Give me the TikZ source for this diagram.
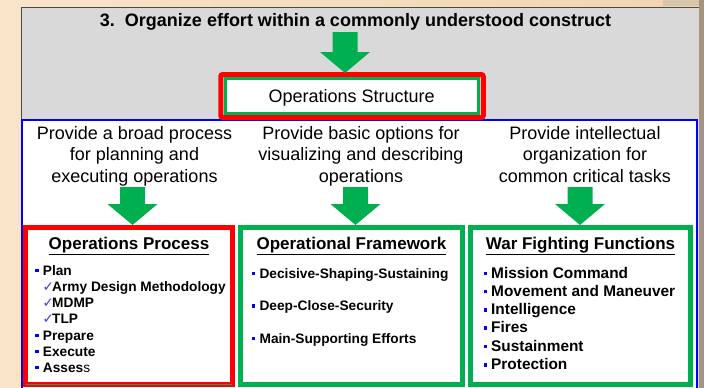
\documentclass[tikz,border=0pt]{standalone}
\usepackage{fontspec}
\setmainfont{Liberation Sans}
\newfontfamily\checkfont{DejaVu Sans}

\definecolor{beigeL}{HTML}{F8E4C9}
\definecolor{beigeR}{HTML}{F2D5AD}
\definecolor{beigeD}{HTML}{D9C6AA}
\definecolor{edgebrown}{HTML}{A59580}
\definecolor{edgegray}{HTML}{4A4A4A}
\definecolor{panelgray}{HTML}{D9D9D9}
\definecolor{framegreen}{HTML}{00B050}
\definecolor{framered}{HTML}{FF0000}
\definecolor{frameblue}{HTML}{0000FF}
\definecolor{bulletblue}{HTML}{0000FF}
\definecolor{checkblue}{HTML}{3A3AE0}

% small square bullet and check mark in front of the list entries
\newcommand\sqbul{\textcolor{bulletblue}{\rule[3pt]{3.5pt}{3.5pt}}\hspace{4.2pt}}
\newcommand\chk{\makebox[9pt][l]{\hspace{-0.5pt}\checkfont\mdseries\fontsize{13.5}{13.5}\selectfont\textcolor{checkblue}{✓}}}
% fat green arrow: #1 tip, #2 total length, #3 head length
\newcommand\greenarrow[3]{%
  \fill[framegreen] (#1) -- ++(25,-#3) -- ++(-12.5,0) -- ++(0,{#3-#2})
    -- ++(-25,0) -- ++(0,{#2-#3}) -- ++(-12.5,0) -- cycle;}

\begin{document}
\begin{tikzpicture}[x=1pt,y=-1pt,
    prompt/.style={font=\fontsize{18}{21.5}\selectfont, align=center, anchor=north, inner sep=0pt},
    colhead/.style={font=\fontsize{17}{20}\selectfont\bfseries, anchor=base, inner sep=0pt},
    item/.style={font=\fontsize{13.7}{16}\selectfont\bfseries, anchor=base west, inner sep=0pt},
    bigitem/.style={item, font=\fontsize{15.4}{18}\selectfont\bfseries},
    panel/.style={line width=5pt, inner sep=0pt}]

  % Canvas (pixel units, y pointing down)
  \useasboundingbox (0,0) rectangle (704,388);
  \begin{scope}
    \clip (0,0) rectangle (704,388);
    \fill[left color=beigeL, right color=beigeR] (0,0) rectangle (704,388);
    \fill[edgebrown] (699,0) rectangle (704,388);
    \fill[beigeD] (663,0) rectangle (699,6);

    % Gray slide panel
    \fill[panelgray] (21,7) rectangle (699,400);
    \draw[edgegray, line width=1pt] (21.5,400) -- (21.5,7.5) -- (699,7.5);

    % White area with blue frame
    \filldraw[fill=white, draw=frameblue, line width=1.8pt] (22,120) rectangle (697,400);
  \end{scope}

  % Title
  \node[font=\fontsize{18}{21}\selectfont\bfseries, anchor=base, inner sep=0pt] (title)
    at (355.5,27) {3.\ \ Organize effort within a commonly understood construct};

  % Operations Structure
  \node[panel, draw=framered, rounded corners=2pt, minimum width=262.5pt, minimum height=43pt] (opsframe) at (352,96) {};
  \node[draw=framegreen, line width=3pt, fill=white, minimum width=253.3pt, minimum height=35.3pt,
    inner sep=0pt, text depth=0pt, font=\fontsize{18}{21}\selectfont] (opsstruct) at (351.7,95.7) {Operations Structure};

  % Purposes
  \node[prompt] (procprompt) at (134.5,126) {Provide a broad process\\for planning and\\executing operations};
  \node[prompt] (frameprompt) at (361,126) {Provide basic options for\\visualizing and describing\\operations};
  \node[prompt] (wffprompt) at (585,126) {Provide intellectual\\organization for\\common critical tasks};

  % Boxes
  \node[panel, draw=framered, minimum width=206.5pt, minimum height=157pt] (procbox) at (128.75,306) {};
  \draw[framegreen, line width=1pt] ([xshift=2.5pt,yshift=3pt]procbox.south west) -- ([xshift=-2.5pt,yshift=3pt]procbox.south east);
  \node[panel, draw=framegreen, minimum width=222pt, minimum height=157pt] (framebox) at (351.5,306) {};
  \node[panel, draw=framegreen, minimum width=219.7pt, minimum height=157pt] (wffbox) at (580.65,306) {};

  % Arrows
  \coordinate (tip0) at (345,73);
  \coordinate (tip1) at (132.5,225);
  \coordinate (tip2) at (355.5,225);
  \coordinate (tip3) at (580,225);
  \greenarrow{tip0}{41}{21}
  \greenarrow{tip1}{38}{21}
  \greenarrow{tip2}{38}{21}
  \greenarrow{tip3}{38}{21}

  % Headings
  \node[colhead] (prochead) at (129,249) {\underline{Operations Process}};
  \node[colhead] (framehead) at (351.5,249) {\underline{Operational Framework}};
  \node[colhead] (wffhead) at (580.5,249) {\underline{War Fighting Functions}};

  % Operations Process list
  \node[item] (proc1) at (35,275) {\sqbul Plan};
  \node[item] (proc2) at (43,291) {\chk Army Design Methodology};
  \node[item] (proc3) at (43,307) {\chk MDMP};
  \node[item] (proc4) at (43,323) {\chk TLP};
  \node[item] (proc5) at (35,340) {\sqbul Prepare};
  \node[item] (proc6) at (35,356) {\sqbul Execute};
  \node[item] (proc7) at (35,372) {\sqbul Asses{\mdseries s}};

  % Operational Framework list
  \foreach \txt [count=\i] in {Decisive-Shaping-Sustaining, Deep-Close-Security, Main-Supporting Efforts}
    \node[item] (frame\i) at (251.7,{278+32.5*(\i-1)}) {\sqbul\txt};

  % War Fighting Functions list
  \foreach \txt [count=\i] in {Mission Command, Movement and Maneuver, Intelligence, Fires, Sustainment, Protection}
    \node[bigitem] (wff\i) at (483.3,{278+18.3*(\i-1)}) {\sqbul\txt};

\end{tikzpicture}
\end{document}
